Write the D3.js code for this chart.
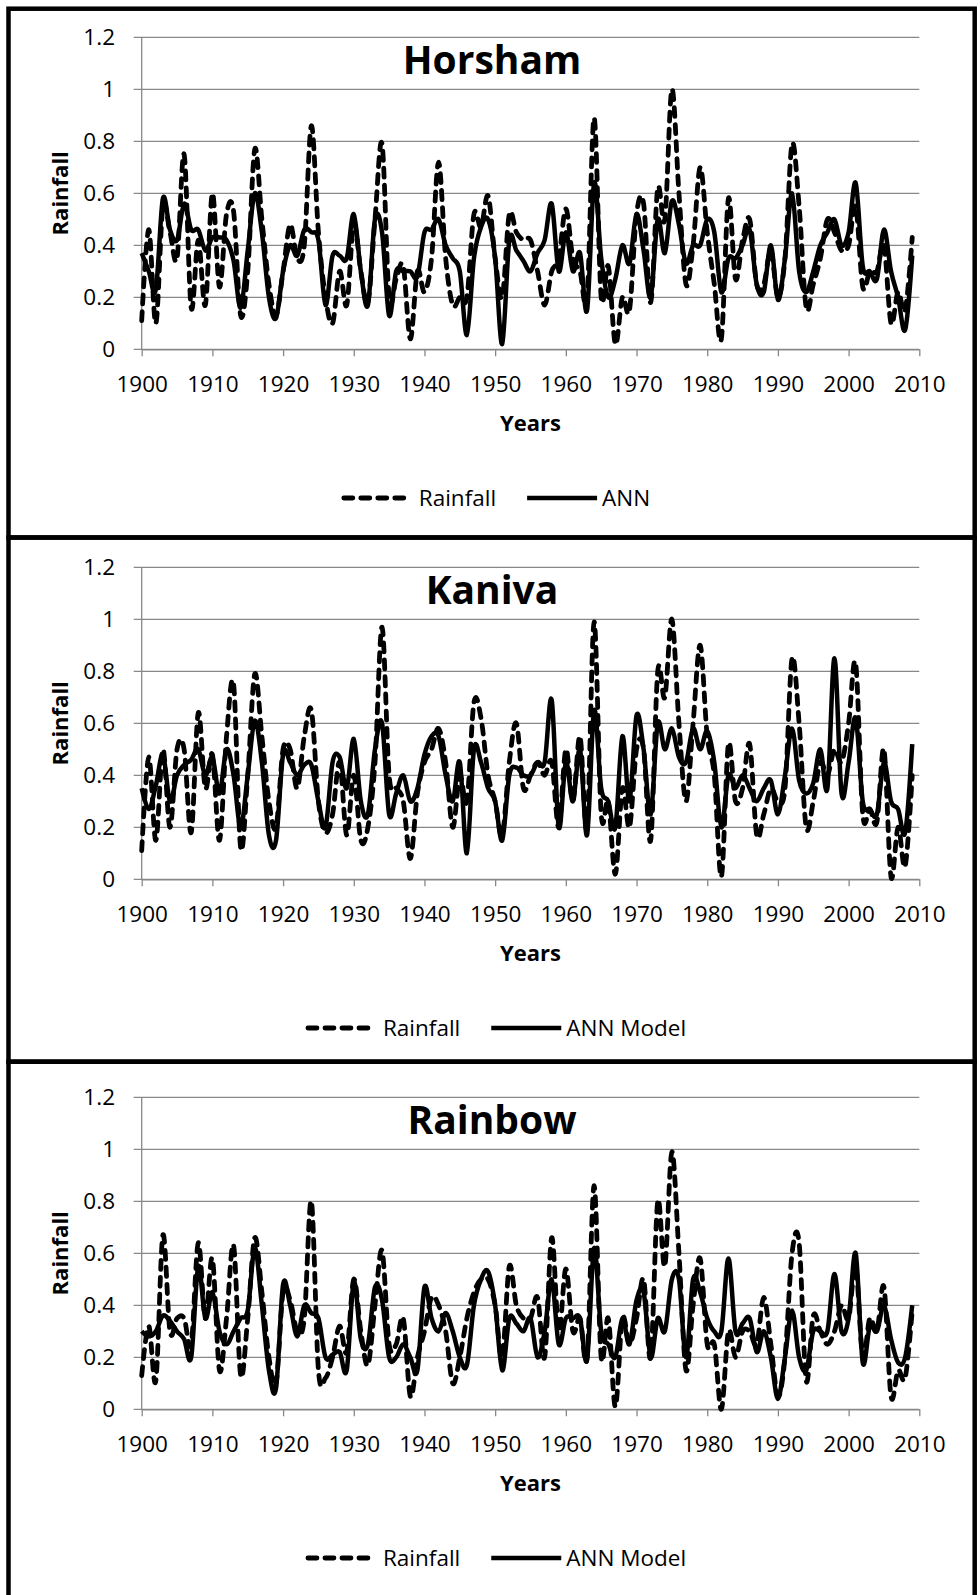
<!DOCTYPE html>
<html>
<head>
<meta charset="utf-8">
<script src="https://cdn.jsdelivr.net/npm/d3@7"></script>
<style>
  body { margin: 0; background: #fff; }
  svg { display: block; }
</style>
</head>
<body>
<svg id="chart" width="980" height="1595"></svg>
<script>
// ---- data ---------------------------------------------------------------
const years = d3.range(1900, 2010);
const xTickValues = [1900, 1910, 1920, 1930, 1940, 1950, 1960, 1970, 1980, 1990, 2000, 2010];
const yTickValues = [0, 0.2, 0.4, 0.6, 0.8, 1, 1.2];

const stationNames = ["Horsham", "Kaniva", "Rainbow"];
const modelNames = ["ANN", "ANN Model", "ANN Model"];

const horshamRainfall = [
  0.11, 0.46, 0.10, 0.55, 0.45, 0.35, 0.75, 0.16, 0.42, 0.17,
  0.60, 0.24, 0.52, 0.53, 0.13, 0.30, 0.77, 0.50, 0.25, 0.13,
  0.30, 0.48, 0.35, 0.40, 0.86, 0.45, 0.20, 0.10, 0.30, 0.17,
  0.48, 0.30, 0.18, 0.50, 0.79, 0.20, 0.27, 0.32, 0.04, 0.30,
  0.22, 0.35, 0.72, 0.35, 0.17, 0.20, 0.20, 0.52, 0.47, 0.59,
  0.35, 0.20, 0.52, 0.45, 0.42, 0.42, 0.30, 0.17, 0.30, 0.35,
  0.54, 0.35, 0.30, 0.20, 0.89, 0.20, 0.32, 0.02, 0.20, 0.15,
  0.52, 0.56, 0.18, 0.62, 0.50, 1.00, 0.60, 0.25, 0.40, 0.70,
  0.45, 0.25, 0.04, 0.58, 0.27, 0.42, 0.50, 0.25, 0.25, 0.38,
  0.20, 0.35, 0.79, 0.55, 0.16, 0.25, 0.35, 0.50, 0.45, 0.38,
  0.40, 0.55, 0.24, 0.30, 0.30, 0.40, 0.10, 0.22, 0.15, 0.43
];
const horshamANN = [
  0.37, 0.30, 0.23, 0.58, 0.46, 0.42, 0.56, 0.46, 0.46, 0.38,
  0.43, 0.43, 0.42, 0.34, 0.16, 0.38, 0.60, 0.45, 0.20, 0.12,
  0.30, 0.40, 0.36, 0.46, 0.45, 0.42, 0.17, 0.36, 0.36, 0.35,
  0.52, 0.30, 0.17, 0.50, 0.45, 0.13, 0.30, 0.30, 0.30, 0.28,
  0.45, 0.46, 0.50, 0.40, 0.35, 0.30, 0.055, 0.35, 0.47, 0.50,
  0.35, 0.02, 0.42, 0.38, 0.34, 0.30, 0.37, 0.42, 0.56, 0.30,
  0.45, 0.30, 0.37, 0.15, 0.64, 0.35, 0.20, 0.27, 0.40, 0.33,
  0.52, 0.38, 0.20, 0.50, 0.37, 0.57, 0.48, 0.33, 0.40, 0.40,
  0.50, 0.45, 0.22, 0.35, 0.35, 0.40, 0.46, 0.25, 0.22, 0.40,
  0.19, 0.35, 0.60, 0.30, 0.22, 0.30, 0.40, 0.45, 0.50, 0.40,
  0.45, 0.64, 0.32, 0.30, 0.27, 0.46, 0.30, 0.20, 0.075, 0.36
];

const kanivaRainfall = [
  0.11, 0.47, 0.15, 0.50, 0.20, 0.50, 0.50, 0.18, 0.64, 0.35,
  0.48, 0.15, 0.55, 0.75, 0.12, 0.40, 0.79, 0.55, 0.30, 0.20,
  0.50, 0.50, 0.35, 0.55, 0.65, 0.30, 0.18, 0.25, 0.45, 0.17,
  0.40, 0.15, 0.20, 0.45, 0.97, 0.40, 0.35, 0.30, 0.08, 0.33,
  0.45, 0.50, 0.58, 0.45, 0.20, 0.40, 0.30, 0.68, 0.62, 0.40,
  0.30, 0.17, 0.45, 0.60, 0.35, 0.40, 0.45, 0.40, 0.45, 0.20,
  0.50, 0.30, 0.55, 0.20, 0.99, 0.25, 0.30, 0.02, 0.35, 0.20,
  0.50, 0.50, 0.15, 0.80, 0.70, 1.00, 0.60, 0.30, 0.60, 0.90,
  0.55, 0.40, 0.01, 0.52, 0.30, 0.35, 0.52, 0.17, 0.25, 0.35,
  0.30, 0.35, 0.85, 0.60, 0.20, 0.30, 0.45, 0.40, 0.50, 0.45,
  0.60, 0.83, 0.25, 0.27, 0.22, 0.50, 0.01, 0.20, 0.05, 0.40
];
const kanivaANN = [
  0.35, 0.27, 0.36, 0.48, 0.30, 0.40, 0.44, 0.46, 0.50, 0.40,
  0.47, 0.33, 0.50, 0.40, 0.20, 0.40, 0.61, 0.45, 0.17, 0.15,
  0.48, 0.45, 0.40, 0.44, 0.44, 0.30, 0.20, 0.45, 0.47, 0.35,
  0.54, 0.30, 0.25, 0.50, 0.60, 0.25, 0.33, 0.40, 0.30, 0.35,
  0.48, 0.55, 0.55, 0.40, 0.30, 0.45, 0.10, 0.50, 0.45, 0.35,
  0.30, 0.15, 0.40, 0.43, 0.40, 0.40, 0.45, 0.45, 0.69, 0.20,
  0.45, 0.30, 0.50, 0.17, 0.65, 0.35, 0.30, 0.20, 0.55, 0.30,
  0.63, 0.50, 0.25, 0.60, 0.50, 0.58, 0.47, 0.45, 0.58, 0.50,
  0.57, 0.45, 0.20, 0.40, 0.35, 0.40, 0.35, 0.30, 0.35, 0.38,
  0.25, 0.40, 0.58, 0.38, 0.33, 0.37, 0.50, 0.35, 0.85, 0.33,
  0.45, 0.62, 0.30, 0.27, 0.25, 0.45, 0.30, 0.27, 0.18, 0.52
];

const rainbowRainfall = [
  0.13, 0.32, 0.11, 0.67, 0.30, 0.35, 0.35, 0.25, 0.64, 0.35,
  0.58, 0.15, 0.35, 0.63, 0.13, 0.35, 0.66, 0.45, 0.20, 0.10,
  0.45, 0.42, 0.30, 0.35, 0.80, 0.15, 0.12, 0.20, 0.32, 0.22,
  0.50, 0.30, 0.17, 0.40, 0.61, 0.25, 0.25, 0.35, 0.05, 0.20,
  0.30, 0.43, 0.40, 0.30, 0.10, 0.20, 0.35, 0.45, 0.50, 0.50,
  0.40, 0.20, 0.55, 0.40, 0.35, 0.35, 0.43, 0.20, 0.66, 0.30,
  0.54, 0.30, 0.35, 0.20, 0.86, 0.20, 0.35, 0.01, 0.35, 0.25,
  0.35, 0.50, 0.20, 0.80, 0.55, 0.99, 0.60, 0.15, 0.40, 0.58,
  0.25, 0.25, 0.00, 0.30, 0.20, 0.30, 0.30, 0.25, 0.43, 0.25,
  0.05, 0.20, 0.60, 0.64, 0.11, 0.36, 0.30, 0.25, 0.30, 0.40,
  0.35, 0.55, 0.20, 0.35, 0.30, 0.47, 0.05, 0.15, 0.12, 0.38
];
const rainbowANN = [
  0.30, 0.28, 0.30, 0.36, 0.34, 0.30, 0.27, 0.20, 0.55, 0.35,
  0.45, 0.30, 0.25, 0.30, 0.35, 0.38, 0.62, 0.40, 0.15, 0.08,
  0.48, 0.40, 0.28, 0.40, 0.37, 0.35, 0.20, 0.21, 0.22, 0.15,
  0.49, 0.27, 0.25, 0.47, 0.42, 0.20, 0.20, 0.25, 0.20, 0.15,
  0.47, 0.35, 0.30, 0.37, 0.30, 0.20, 0.17, 0.40, 0.50, 0.53,
  0.40, 0.15, 0.35, 0.33, 0.30, 0.35, 0.20, 0.30, 0.50, 0.25,
  0.35, 0.35, 0.35, 0.19, 0.62, 0.30, 0.25, 0.20, 0.35, 0.25,
  0.42, 0.45, 0.20, 0.35, 0.30, 0.50, 0.50, 0.20, 0.50, 0.45,
  0.35, 0.30, 0.30, 0.58, 0.30, 0.33, 0.35, 0.22, 0.30, 0.20,
  0.04, 0.20, 0.38, 0.20, 0.15, 0.30, 0.30, 0.30, 0.52, 0.30,
  0.35, 0.60, 0.18, 0.32, 0.30, 0.40, 0.27, 0.18, 0.20, 0.40
];

const rainfallSeries = [horshamRainfall, kanivaRainfall, rainbowRainfall];
const modelSeries = [horshamANN, kanivaANN, rainbowANN];

// ---- layout -------------------------------------------------------------
const svg = d3.select("#chart");
const FONT = "'Open Sans', 'Noto Sans', sans-serif";
const GRID = "#888888";

const plotLeft = 141.7, plotRight = 919.3;
const plotTop = 37.3, plotBottom = 349.3;
const panelStep = 530;
const frameEdges = [8.7, 537.5, 1061.7, 1602];

const x = d3.scaleLinear().domain([1900, 2010]).range([plotLeft, plotRight]);
const y = d3.scaleLinear().domain([0, 1.2]).range([plotBottom, plotTop]);

const line = d3.line()
  .x((d, i) => x(years[i]))
  .y(d => y(d))
  .curve(d3.curveCardinal.tension(0));

const dashPattern = "9,8";
const dashWidth = 4.8;
const solidWidth = 4.5;

stationNames.forEach((name, p) => {
  const g = svg.append("g").attr("transform", `translate(0,${p * panelStep})`);

  // horizontal gridlines with their left tick stubs
  g.append("g").selectAll("line").data(yTickValues).join("line")
    .attr("x1", plotLeft - 8).attr("x2", plotRight)
    .attr("y1", d => y(d)).attr("y2", d => y(d))
    .attr("stroke", GRID).attr("stroke-width", 1.3);

  // vertical axis line
  g.append("line")
    .attr("x1", plotLeft).attr("x2", plotLeft)
    .attr("y1", plotTop).attr("y2", plotBottom)
    .attr("stroke", GRID).attr("stroke-width", 1.3);

  // y tick labels
  g.append("g").selectAll("text").data(yTickValues).join("text")
    .attr("x", 115).attr("y", d => y(d) + 8)
    .attr("text-anchor", "end")
    .attr("font-family", FONT).attr("font-size", 22.5).attr("fill", "#000")
    .text(d => d3.format("~g")(d));

  // x axis
  const xAxis = g.append("g")
    .attr("transform", `translate(0,${plotBottom})`)
    .call(d3.axisBottom(x).tickValues(xTickValues).tickFormat(d3.format("d"))
      .tickSize(7).tickSizeOuter(0).tickPadding(10));
  xAxis.select(".domain").attr("stroke", GRID).attr("stroke-width", 1.3);
  xAxis.selectAll(".tick line").attr("stroke", GRID).attr("stroke-width", 1.3);
  xAxis.selectAll(".tick text")
    .attr("font-family", FONT).attr("font-size", 22.5).attr("fill", "#000")
    .attr("dy", null).attr("y", 42.5);

  // axis titles
  g.append("text")
    .attr("transform", `translate(68,${(plotTop + plotBottom) / 2}) rotate(-90)`)
    .attr("text-anchor", "middle")
    .attr("font-family", FONT).attr("font-size", 22).attr("font-weight", "bold")
    .text("Rainfall");
  g.append("text")
    .attr("x", (plotLeft + plotRight) / 2).attr("y", 431)
    .attr("text-anchor", "middle")
    .attr("font-family", FONT).attr("font-size", 22).attr("font-weight", "bold")
    .text("Years");

  // series
  g.append("path").datum(rainfallSeries[p])
    .attr("d", line).attr("fill", "none")
    .attr("stroke", "#000").attr("stroke-width", dashWidth)
    .attr("stroke-dasharray", dashPattern).attr("stroke-linecap", "round");
  g.append("path").datum(modelSeries[p])
    .attr("d", line).attr("fill", "none")
    .attr("stroke", "#000").attr("stroke-width", solidWidth)
    .attr("stroke-linejoin", "round");

  // station title
  g.append("text")
    .attr("x", 492).attr("y", 73.5)
    .attr("text-anchor", "middle")
    .attr("font-family", FONT).attr("font-size", 39).attr("font-weight", "bold")
    .text(name);

  // legend
  const leg = g.append("g");
  const legY = 498;
  let cx = 0;
  leg.append("line").attr("x1", cx + 2).attr("x2", cx + 64).attr("y1", legY).attr("y2", legY)
    .attr("stroke", "#000").attr("stroke-width", dashWidth)
    .attr("stroke-dasharray", dashPattern).attr("stroke-linecap", "round");
  cx += 77;
  const t1 = leg.append("text").attr("x", cx).attr("y", legY + 8)
    .attr("font-family", FONT).attr("font-size", 22.5).text("Rainfall");
  cx += t1.node().getComputedTextLength() + 31;
  leg.append("line").attr("x1", cx).attr("x2", cx + 70).attr("y1", legY).attr("y2", legY)
    .attr("stroke", "#000").attr("stroke-width", solidWidth);
  cx += 75;
  const t2 = leg.append("text").attr("x", cx).attr("y", legY + 8)
    .attr("font-family", FONT).attr("font-size", 22.5).text(modelNames[p]);
  cx += t2.node().getComputedTextLength();
  leg.attr("transform", `translate(${496 - cx / 2},0)`);
});

// panel frames
for (let p = 0; p < 3; p++) {
  svg.append("rect")
    .attr("x", 8.5).attr("y", frameEdges[p])
    .attr("width", 966.2).attr("height", frameEdges[p + 1] - frameEdges[p])
    .attr("fill", "none").attr("stroke", "#000").attr("stroke-width", 4.5);
}
</script>
</body>
</html>
